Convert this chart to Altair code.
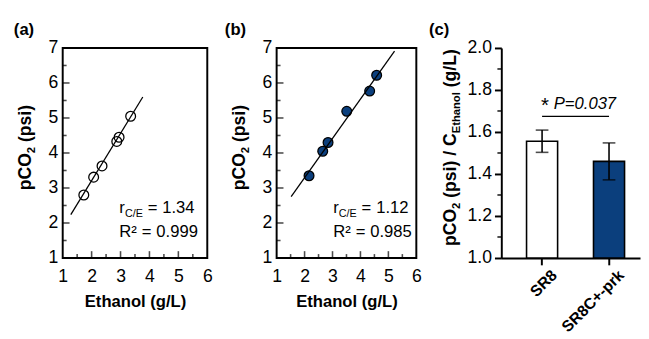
import altair as alt
import pandas as pd

# ---------------- data ----------------
ethanol_a = [1.73, 2.07, 2.36, 2.87, 2.95, 3.35]
pco2_a = [2.80, 3.31, 3.63, 4.33, 4.45, 5.05]
fit_a_ethanol = [1.28, 3.77]
fit_a_pco2 = [2.24, 5.60]
r_a, r2_a = "1.34", "0.999"

ethanol_b = [2.16, 2.65, 2.84, 3.51, 4.33, 4.58]
pco2_b = [3.35, 4.05, 4.30, 5.19, 5.77, 6.22]
fit_b_ethanol = [1.52, 5.22]
fit_b_pco2 = [2.75, 6.91]
r_b, r2_b = "1.12", "0.985"

strains = ["SR8", "SR8C+-prk"]
ratio_mean = [1.556, 1.460]
ratio_err = [0.053, 0.088]
p_text = "P=0.037"
sig_level = [1.674]

scatter_x_ticks = [1, 2, 3, 4, 5, 6]
scatter_y_ticks = [1, 2, 3, 4, 5, 6, 7]
scatter_x_minor = [1.5, 2.5, 3.5, 4.5, 5.5]
scatter_y_minor = [1.5, 2.5, 3.5, 4.5, 5.5, 6.5]
bar_y_ticks = [1.0, 1.2, 1.4, 1.6, 1.8, 2.0]
bar_y_minor = [1.1, 1.3, 1.5, 1.7, 1.9]

BLUE = "#0b3f7d"
FONT = "Liberation Sans"
H = 215
TS = 18      # title font size
SS = 11.5    # subscript font size
LS = 18      # tick label font size

# ---------------- helpers ----------------
REG = {'(': 333, ')': 333, '/': 278, '=': 584, '.': 278, 'r': 333, 'C': 722,
       'E': 667, 'R': 722, '*': 389, 'P': 667, '²': 333}
BOLD = {'(': 333, ')': 333, '/': 278, 'p': 611, 'C': 722, 'O': 778, 's': 556,
        'i': 278, 'E': 667, 't': 333, 'h': 611, 'a': 556, 'n': 611, 'o': 611, 'l': 278,
        'g': 611, 'L': 611, 'b': 611, 'c': 556}


def tw(text, size, bold):
    table = BOLD if bold else REG
    return sum(table.get(ch, 556) for ch in text) * size / 1000.0


ONE = pd.DataFrame({"k": [0]})


def rich(pieces, x, y, angle=0, center=False):
    """pieces: (text, size, bold, baseline shift) or a number = blank advance in px."""
    def adv(p):
        return p if isinstance(p, (int, float)) else tw(p[0], p[1], p[2])
    total = sum(adv(p) for p in pieces)
    off = -total / 2 if center else 0.0
    layers = []
    for p in pieces:
        if not isinstance(p, (int, float)):
            text, size, bold, shift = p
            layers.append(
                alt.Chart(ONE).mark_text(
                    text=text, fontSize=size, fontWeight="bold" if bold else "normal",
                    align="left", baseline="alphabetic", angle=angle, dx=off, dy=shift,
                    color="black", font=FONT,
                ).encode(x=alt.value(x), y=alt.value(y))
            )
        off += adv(p)
    return layers


def spacer(x1, x2, y1, y2):
    # invisible box: only fixes the layout extent of a panel
    return alt.Chart(ONE).mark_rect(fill="white", opacity=0).encode(
        x=alt.value(x1), x2=alt.value(x2), y=alt.value(y1), y2=alt.value(y2))


def scatter_panel(xs, ys, fx, fy, filled, r_val, r2_val, letter, W, letter_x, left_ext):
    xsc = alt.Scale(domain=[1, 6], nice=False, zero=False)
    ysc = alt.Scale(domain=[1, 7], nice=False, zero=False)
    xax = alt.Axis(values=scatter_x_ticks, title="Ethanol (g/L)", ticks=False, tickSize=0,
                   domain=False, grid=False, labelFlush=False, labelFontSize=LS, labelPadding=10,
                   titleFontSize=17, titleFontWeight="bold", titlePadding=9)
    yax = alt.Axis(values=scatter_y_ticks, title=None, ticks=False, tickSize=0, domain=False,
                   grid=False, labelFlush=False, labelFontSize=LS, labelPadding=5)
    df = pd.DataFrame({"e": xs, "p": ys})
    pts = alt.Chart(df).mark_point(
        shape="circle", filled=True, size=100, stroke="black", strokeWidth=1.3,
        fill=BLUE if filled else "transparent", opacity=1, fillOpacity=1,
    ).encode(x=alt.X("e:Q", scale=xsc, axis=xax), y=alt.Y("p:Q", scale=ysc, axis=yax))
    fit = alt.Chart(pd.DataFrame({"e": fx, "p": fy})).mark_line(
        color="black", strokeWidth=1.3
    ).encode(x=alt.X("e:Q", scale=xsc, axis=xax), y=alt.Y("p:Q", scale=ysc, axis=yax))

    xmaj = alt.Chart(pd.DataFrame({"e": scatter_x_ticks[1:-1]})).mark_tick(
        orient="vertical", size=7, thickness=1.6, color="black"
    ).encode(x=alt.X("e:Q", scale=xsc, axis=xax), y=alt.value(H - 3.5))
    xmin = alt.Chart(pd.DataFrame({"e": scatter_x_minor})).mark_tick(
        orient="vertical", size=4, thickness=1.6, color="black"
    ).encode(x=alt.X("e:Q", scale=xsc, axis=xax), y=alt.value(H - 2))
    ymaj = alt.Chart(pd.DataFrame({"p": scatter_y_ticks[1:-1]})).mark_tick(
        orient="horizontal", size=7, thickness=1.6, color="black"
    ).encode(y=alt.Y("p:Q", scale=ysc, axis=yax), x=alt.value(3.5))
    ymin = alt.Chart(pd.DataFrame({"p": scatter_y_minor})).mark_tick(
        orient="horizontal", size=4, thickness=1.6, color="black"
    ).encode(y=alt.Y("p:Q", scale=ysc, axis=yax), x=alt.value(2))

    texts = []
    texts += rich([("pCO", TS, True, 0), ("2", SS, True, 4), 5, ("(psi)", TS, True, 0)],
                  -32, 102, angle=270, center=True)
    texts += rich([("r", 17, False, 0), ("C/E", 11, False, 4), 5, ("=", 17, False, 0), 5,
                   (r_val, 17, False, 0)], 58, 169)
    texts += rich([("R²", 17, False, 0), 5, ("=", 17, False, 0), 5, (r2_val, 17, False, 0)], 58, 194)
    texts += rich([(letter, 17, True, 0)], letter_x, -13)

    boxes = [spacer(-left_ext, -left_ext + 4, -31, -27), spacer(W + 3, W + 7, -31, -27)]
    return alt.layer(*boxes, pts, fit, xmaj, xmin, ymaj, ymin, *texts).properties(
        width=W, height=H,
        view=alt.ViewBackground(stroke="black", strokeWidth=2),
    )


pa = scatter_panel(ethanol_a, pco2_a, fit_a_ethanol, fit_a_pco2, False, r_a, r2_a, "(a)", 148, -50, 50)
pb = scatter_panel(ethanol_b, pco2_b, fit_b_ethanol, fit_b_pco2, True, r_b, r2_b, "(b)", 143, -53, 62)

# ---------------- bar panel ----------------
bar_df = pd.DataFrame({
    "strain": strains,
    "mean": ratio_mean,
    "lo": [m - e for m, e in zip(ratio_mean, ratio_err)],
    "hi": [m + e for m, e in zip(ratio_mean, ratio_err)],
    "base": [1.0, 1.0],
})
bx = alt.Scale(domain=strains, paddingInner=0.536, paddingOuter=0.304, align=0.62)
by = alt.Scale(domain=[1.0, 2.0], nice=False, zero=False)
bxax = alt.Axis(title=None, labelAngle=-45, labelFontSize=16, labelFontWeight="bold",
                tickSize=7, tickWidth=2, tickColor="black", domainWidth=2, domainColor="black",
                labelPadding=2, labelOffset=7)
byax = alt.Axis(values=bar_y_ticks, format=".1f", title=None, tickSize=7, tickWidth=2,
                tickColor="black", domainWidth=2, domainColor="black", grid=False,
                labelFontSize=LS, labelPadding=3, labelFlush=False)
X = alt.X("strain:N", scale=bx, sort=strains, axis=bxax)

bars = alt.Chart(bar_df).mark_bar(stroke="black", strokeWidth=1.6).encode(
    x=X,
    y=alt.Y("mean:Q", scale=by, axis=byax),
    y2="base:Q",
    fill=alt.Fill("strain:N", scale=alt.Scale(domain=strains, range=["white", BLUE]), legend=None),
)
err = alt.Chart(bar_df).mark_rule(color="black", strokeWidth=1.6).encode(
    x=X, y=alt.Y("lo:Q", scale=by, axis=byax), y2="hi:Q")
cap_lo = alt.Chart(bar_df).mark_tick(orient="horizontal", size=13, thickness=1.6, color="black").encode(
    x=X, y=alt.Y("lo:Q", scale=by, axis=byax))
cap_hi = alt.Chart(bar_df).mark_tick(orient="horizontal", size=13, thickness=1.6, color="black").encode(
    x=X, y=alt.Y("hi:Q", scale=by, axis=byax))
minor = alt.Chart(pd.DataFrame({"mean": bar_y_minor})).mark_tick(
    orient="horizontal", size=4, thickness=2, color="black"
).encode(y=alt.Y("mean:Q", scale=by, axis=byax), x=alt.value(-2))

sig_df = pd.DataFrame({"strain": [strains[0]], "b": [strains[1]], "y": sig_level})
sig_line = alt.Chart(sig_df).mark_rule(color="black", strokeWidth=1.3).encode(
    x=X, x2="b:N", y=alt.Y("y:Q", scale=by, axis=byax))
star = alt.Chart(sig_df).mark_text(text="*", fontSize=21, align="left", baseline="alphabetic",
                                   dx=-1, dy=-5, font=FONT, color="black").encode(
    x=X, y=alt.Y("y:Q", scale=by, axis=byax))
ptxt = alt.Chart(sig_df).mark_text(text=p_text, fontSize=17, fontStyle="italic", align="left",
                                   baseline="alphabetic", dx=12, dy=-8, font=FONT, color="black").encode(
    x=X, y=alt.Y("y:Q", scale=by, axis=byax))

ctexts = []
ctexts += rich([("pCO", TS, True, 0), ("2", SS, True, 4), 5, ("(psi)", TS, True, 0), 5,
                ("/", TS, True, 0), 5, ("C", TS, True, 0), ("Ethanol", SS, True, 4), 5,
                ("(g/L)", TS, True, 0)], -46, 102, angle=270, center=True)
ctexts += rich([("(c)", 17, True, 0)], -74, -13)

cbox = spacer(-78, -74, -31, -27)
pc = alt.layer(cbox, bars, err, cap_lo, cap_hi, minor, sig_line, star, ptxt, *ctexts).properties(
    width=142, height=H)

chart = alt.hconcat(pa, pb, pc, spacing=0).properties(
    padding={"left": 5, "top": 5, "right": 0, "bottom": 0}
).configure(font=FONT).configure_view(stroke="transparent").configure_axis(
    labelColor="black", titleColor="black", labelFont=FONT, titleFont=FONT
)

chart.save("out.html", embed_options={"renderer": "svg", "actions": False})
